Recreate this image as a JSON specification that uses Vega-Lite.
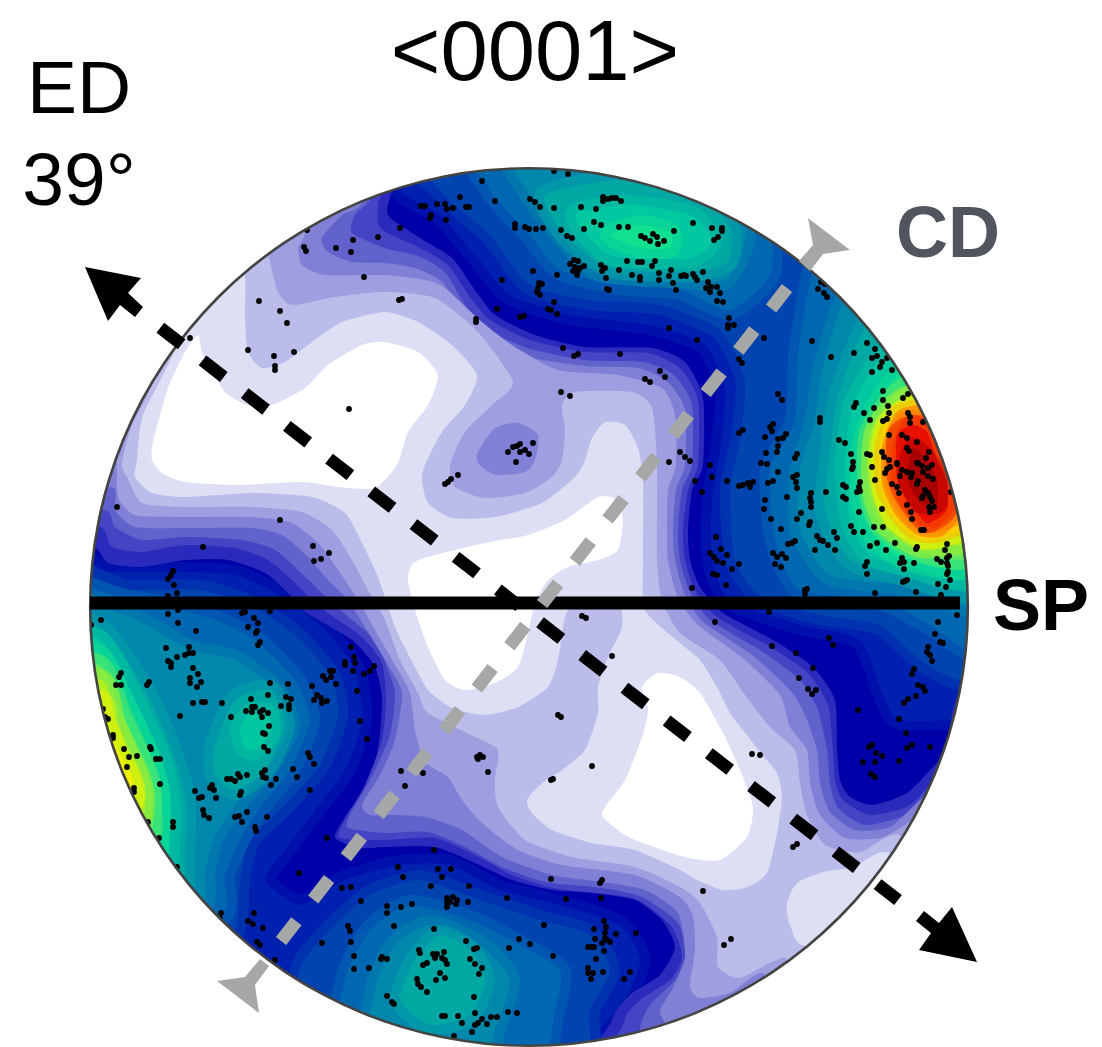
{"$schema":"https://vega.github.io/schema/vega-lite/v6.json","width":1102,"height":1047,"padding":0,"autosize":{"type":"none"},"background":"white","config":{"view":{"stroke":null}},
"encoding":{"x":{"type":"quantitative","scale":{"domain":[0,1102],"nice":false,"zero":false},"axis":null},"y":{"type":"quantitative","scale":{"domain":[1047,0],"nice":false,"zero":false},"axis":null}},
"datasets":{"regions":[
{"id":"base","level":"J0","p":[[0,0],[1102,0],[1102,1047],[0,1047]]},
{"id":"a1","level":"J1","p":[[385,130],[400,190],[440,215],[475,255],[510,295],[570,315],[650,325],[705,345],[725,390],[720,450],[712,500],[712,560],[730,600],[800,625],[860,640],[885,700],[900,720],[960,720],[1040,720],[1040,130]]},
{"id":"a2","level":"J2","p":[[420,130],[440,190],[490,235],[530,285],[590,300],[660,305],[720,330],[745,380],[740,440],[730,490],[735,560],[760,595],[820,615],[880,625],[920,660],[960,680],[1040,680],[1040,130]]},
{"id":"a3","level":"J3","p":[[470,130],[490,190],[530,235],[560,270],[620,285],[680,290],[730,310],[770,275],[770,220],[740,190],[740,130]]},
{"id":"a3r","level":"J3","p":[[835,240],[800,340],[795,420],[770,470],[775,540],[800,590],[880,600],[930,625],[970,650],[1040,650],[1040,300]]},
{"id":"a4","level":"J4","p":[[510,140],[530,195],[565,240],[600,272],[680,278],[725,280],[745,240],[740,200],[700,170],[690,140]]},
{"id":"a4r","level":"J4","p":[[865,280],[825,360],[815,420],[800,470],[800,530],[830,575],[900,585],[945,600],[1040,610],[1040,350]]},
{"id":"a5","level":"J5","p":[[545,195],[565,235],[610,268],[690,272],[728,262],[730,228],[700,195],[620,180]]},
{"id":"a5r","level":"J5","p":[[885,310],[840,390],[830,450],[825,510],[850,560],[900,575],[950,590],[1040,590],[1040,380]]},
{"id":"a6","level":"J6","p":[[575,215],[610,255],[690,258],[712,240],[690,215],[630,205]]},
{"id":"a6r","level":"J6","p":[[900,350],[855,400],[845,460],[850,520],[870,555],[920,570],[960,580],[1040,570],[1040,420]]},
{"id":"a7","level":"J7","p":[[610,235],[640,248],[670,248],[670,232],[640,225]]},
{"id":"a7r","level":"J7","p":[[910,370],[865,430],[860,490],[870,530],[900,558],[960,570],[1040,550],[1040,440]]},
{"id":"a8r","level":"J8","p":[[915,385],[870,430],[868,490],[880,525],[915,550],[965,560],[1040,540],[1040,450]]},
{"id":"a9r","level":"J9","p":[[915,395],[875,430],[872,490],[885,525],[920,548],[955,545],[1040,530],[1040,440]]},
{"id":"a10","level":"J10","p":[[920,403],[885,425],[878,465],[883,495],[897,522],[922,540],[950,535],[1040,500],[1000,430]]},
{"id":"a11","level":"J11","p":[[925,410],[898,415],[885,445],[885,485],[898,512],[915,530],[940,532],[1010,500],[1000,430]]},
{"id":"a12","level":"J12","p":[[925,415],[903,420],[892,448],[892,483],[903,508],[920,525],[938,527],[955,510],[1000,480],[960,430]]},
{"id":"a13","level":"J13","p":[[913,425],[897,435],[897,477],[907,500],[927,523],[947,510],[947,483],[937,460],[927,432]]},
{"id":"a14","level":"J14","p":[[913,448],[907,477],[920,503],[937,503],[937,480],[927,460]]},
{"id":"l1","level":"J1","p":[[40,570],[110,572],[180,572],[235,575],[280,595],[325,630],[355,670],[362,720],[345,770],[315,810],[285,850],[265,880],[300,905],[345,880],[400,865],[450,865],[500,890],[560,905],[620,925],[640,960],[625,1000],[600,1030],[590,1070],[40,1070]]},
{"id":"l2","level":"J2","p":[[40,590],[130,590],[200,590],[250,605],[295,635],[330,675],[338,715],[320,765],[285,805],[250,840],[240,880],[235,930],[190,1000],[40,1000]]},
{"id":"b2","level":"J2","p":[[290,1070],[300,970],[330,930],[370,895],[420,880],[480,900],[540,920],[590,935],[610,970],[590,1010],[570,1070]]},
{"id":"l3","level":"J3","p":[[40,600],[130,600],[210,618],[255,640],[295,680],[310,720],[290,770],[262,805],[240,840],[225,875],[215,920],[40,930]]},
{"id":"b3","level":"J3","p":[[340,1070],[345,980],[370,930],[410,905],[470,920],[520,945],[560,970],[555,1010],[530,1070]]},
{"id":"l4","level":"J4","p":[[40,615],[125,615],[190,650],[235,660],[275,690],[290,725],[270,765],[240,800],[215,835],[205,870],[195,910],[40,920]]},
{"id":"b4","level":"J4","p":[[370,1070],[375,990],[395,945],[430,925],[480,945],[510,980],[495,1030],[480,1070]]},
{"id":"l5","level":"J5","p":[[40,630],[100,628],[145,690],[170,745],[185,795],[185,850],[175,900],[40,900]]},
{"id":"c5","level":"J5","p":[[215,745],[235,700],[270,690],[285,725],[265,770],[235,790],[215,775]]},
{"id":"b5","level":"J5","p":[[400,1000],[415,960],[440,935],[470,950],[485,980],[470,1015],[430,1025]]},
{"id":"l6","level":"J6","p":[[40,645],[100,640],[135,700],[158,750],[170,795],[170,840],[160,880],[40,885]]},
{"id":"c6","level":"J6","p":[[240,728],[252,712],[268,714],[270,733],[255,750],[244,746]]},
{"id":"l7","level":"J7","p":[[40,655],[100,655],[128,710],[148,750],[160,790],[160,825],[150,860],[40,865]]},
{"id":"l8","level":"J8","p":[[40,670],[100,665],[122,715],[138,750],[150,780],[152,810],[145,840],[40,845]]},
{"id":"l9","level":"J9","p":[[40,680],[102,680],[115,720],[128,750],[140,775],[145,800],[135,825],[40,830]]},
{"id":"l10","level":"J10","p":[[40,700],[100,700],[108,725],[118,750],[130,772],[135,790],[128,805],[40,810]]},
{"id":"PG","level":"G","p":[[40,547],[93,547],[108,563],[142,567],[185,560],[228,560],[265,573],[288,593],[302,610],[352,640],[375,667],[382,700],[378,750],[368,783],[345,817],[335,838],[360,848],[385,847],[435,847],[475,863],[512,880],[552,890],[592,893],[635,900],[662,920],[675,947],[660,975],[630,995],[612,1020],[610,1080],[1040,1080],[1040,690],[960,695],[947,750],[933,767],[907,793],[873,805],[850,797],[840,780],[837,750],[835,700],[813,667],[773,640],[723,613],[700,587],[690,560],[688,530],[692,490],[703,465],[703,398],[685,362],[652,348],[585,347],[535,335],[495,315],[475,290],[452,258],[420,238],[388,215],[392,188],[395,130],[40,130]]},
{"id":"PF","level":"F","p":[[40,527],[100,527],[112,547],[142,552],[185,545],[235,548],[268,560],[292,580],[312,600],[328,613],[362,637],[382,663],[386,700],[382,740],[365,785],[345,820],[340,838],[385,840],[435,838],[475,855],[512,875],[552,888],[598,893],[638,900],[672,927],[682,957],[670,980],[640,1000],[625,1020],[630,1080],[1040,1080],[1040,700],[958,725],[940,770],[910,805],[870,815],[843,800],[835,780],[833,750],[828,705],[807,672],[767,645],[717,617],[695,590],[685,560],[683,530],[688,490],[698,465],[698,400],[680,368],[648,353],[585,352],[530,340],[490,320],[470,297],[448,265],[418,247],[385,232],[378,222],[378,205],[378,130],[40,130]]},
{"id":"PE","level":"E","p":[[40,510],[105,510],[115,527],[142,540],[185,537],[242,540],[275,550],[298,570],[322,593],[340,610],[375,640],[388,670],[395,693],[390,735],[370,780],[350,815],[348,828],[385,833],[428,832],[465,847],[502,867],[545,882],[602,888],[642,897],[678,923],[685,955],[675,980],[650,1005],[640,1030],[650,1080],[1040,1080],[1040,730],[975,730],[935,785],[905,815],[865,825],[838,808],[830,783],[827,750],[818,710],[800,680],[760,650],[710,620],[690,592],[680,560],[678,530],[682,490],[692,465],[692,405],[674,375],[643,362],[585,360],[527,348],[485,328],[465,305],[445,272],[418,256],[385,248],[352,233],[355,215],[372,195],[372,130],[40,130]]},
{"id":"PD","level":"D","p":[[40,487],[112,487],[115,510],[135,527],[185,528],[252,528],[282,535],[308,557],[328,580],[348,600],[368,632],[388,665],[402,693],[395,740],[380,775],[362,805],[370,815],[385,815],[425,817],[462,830],[502,857],[552,875],[602,882],[645,890],[678,913],[685,957],[672,990],[660,1010],[665,1025],[680,1080],[1040,1080],[1040,765],[960,765],[920,800],[890,827],[855,830],[830,812],[820,783],[817,750],[805,715],[790,690],[752,655],[703,622],[685,595],[675,560],[673,530],[676,490],[685,465],[685,410],[668,382],[638,368],[585,366],[523,356],[482,335],[462,313],[442,282],[415,268],[385,263],[352,262],[328,252],[322,238],[342,215],[362,202],[362,130],[40,130]]},
{"id":"PC","level":"C","p":[[40,440],[120,440],[117,460],[118,497],[135,515],[185,517],[252,517],[292,523],[318,543],[338,570],[358,600],[375,630],[395,665],[410,693],[415,730],[425,762],[448,777],[462,800],[482,823],[518,850],[562,865],[635,875],[680,897],[693,917],[695,950],[690,987],[700,998],[730,993],[765,975],[770,1080],[1040,1080],[1040,800],[950,795],[905,825],[880,838],[845,838],[820,815],[810,783],[807,750],[790,727],[780,695],[745,660],[698,625],[678,598],[668,560],[667,530],[668,490],[676,465],[675,415],[662,388],[618,375],[558,370],[512,345],[482,322],[445,288],[425,280],[385,275],[325,275],[302,265],[298,248],[305,228],[290,130],[40,130]]},
{"id":"PB","level":"B","p":[[262,235],[270,262],[278,292],[292,305],[335,297],[385,292],[435,298],[478,332],[513,382],[492,405],[465,432],[450,465],[455,487],[485,498],[525,493],[552,477],[562,460],[565,430],[562,405],[575,392],[632,392],[652,408],[657,465],[657,560],[662,600],[680,633],[720,660],[745,695],[770,727],[795,750],[800,783],[807,815],[825,845],[860,852],[900,835],[950,900],[800,1000],[785,958],[740,978],[718,967],[717,937],[700,903],[680,887],[635,867],[572,857],[525,840],[498,807],[495,780],[498,750],[475,737],[428,713],[418,693],[400,660],[385,620],[368,590],[352,560],[332,530],[302,512],[252,507],[185,507],[142,503],[127,477],[122,465],[130,430],[155,372],[110,350],[235,200]]},
{"id":"PA","level":"A","p":[[176,345],[160,300],[235,250],[245,278],[245,315],[248,352],[262,368],[285,362],[312,342],[342,322],[385,312],[418,322],[452,345],[477,375],[465,405],[442,432],[425,465],[422,480],[428,503],[452,518],[495,517],[542,503],[575,477],[585,460],[592,438],[605,422],[625,425],[638,448],[643,480],[643,560],[645,610],[680,643],[700,660],[717,687],[730,713],[743,730],[760,752],[777,773],[782,797],[777,833],[767,873],[747,887],[723,890],[697,880],[680,870],[635,850],[592,843],[552,830],[532,813],[527,800],[542,783],[562,770],[585,750],[598,713],[598,687],[608,657],[622,627],[618,605],[575,605],[565,617],[558,660],[548,687],[518,707],[485,715],[452,708],[428,690],[415,667],[395,627],[378,577],[362,543],[345,513],[312,497],[252,493],[185,497],[152,493],[135,477],[137,460],[143,415]]},
{"id":"PC2","level":"C","p":[[465,462],[478,440],[500,432],[530,432],[548,450],[540,475],[500,490],[475,485]]},
{"id":"PD2","level":"D","p":[[478,452],[495,428],[518,423],[538,435],[535,460],[525,472],[495,475],[478,463]]},
{"id":"PA2","level":"A","p":[[787,903],[797,883],[823,872],[853,867],[885,852],[930,880],[810,945],[790,925]]},
{"id":"W1","level":"W","p":[[198,335],[203,355],[225,392],[248,405],[272,405],[305,388],[328,365],[362,345],[385,342],[418,352],[438,375],[428,405],[408,432],[397,465],[375,488],[338,487],[302,482],[235,485],[185,482],[162,473],[152,460],[153,442],[168,388],[185,352]]},
{"id":"W2","level":"W","p":[[408,580],[413,563],[435,555],[485,543],[528,535],[565,520],[598,497],[618,500],[623,520],[618,550],[598,560],[568,567],[548,580],[538,597],[533,610],[528,633],[518,667],[495,683],[465,690],[445,680],[428,647],[415,610]]},
{"id":"W3","level":"W","p":[[720,860],[747,837],[753,807],[740,770],[723,733],[700,693],[680,677],[658,673],[642,687],[648,710],[642,737],[625,780],[602,813],[618,830],[635,840],[685,857]]}
]},
"layer":[
{"data":{"name":"regions"},"transform":[{"filter":"indexof(datum.level,'J')===0"},{"flatten":["p"]}],"mark":{"type":"line","interpolate":"cardinal-closed","tension":0.35,"strokeWidth":20,"strokeOpacity":0.5,"strokeJoin":"round"},
"encoding":{"x":{"field":"p[0]"},"y":{"field":"p[1]"},"detail":{"field":"id"},"order":{"value":null},"fill":{"field":"level","type":"nominal","legend":null,"scale":{"domain":["J0","J1","J2","J3","J4","J5","J6","J7","J8","J9","J10","J11","J12","J13","J14","G","F","E","D","C","B","A","W"],"range":["#0000a8","#0020b0","#0044b0","#0068b0","#0088ac","#00a8a4","#00c8a0","#10e090","#60e860","#b0f020","#f0f000","#ffb000","#ff6000","#e81000","#a80000","#2a2abc","#4444c4","#6262cc","#8080d6","#9e9ee0","#bcbcea","#dddff5","#ffffff"]}},"stroke":{"field":"level","type":"nominal","legend":null,"scale":{"domain":["J0","J1","J2","J3","J4","J5","J6","J7","J8","J9","J10","J11","J12","J13","J14"],"range":["#0000a8","#0020b0","#0044b0","#0068b0","#0088ac","#00a8a4","#00c8a0","#10e090","#60e860","#b0f020","#f0f000","#ffb000","#ff6000","#e81000","#a80000"]}}}},
{"data":{"name":"regions"},"transform":[{"filter":"indexof(datum.level,'J')!==0"},{"flatten":["p"]}],"mark":{"type":"line","interpolate":"cardinal-closed","tension":0.35,"strokeWidth":0},
"encoding":{"x":{"field":"p[0]"},"y":{"field":"p[1]"},"detail":{"field":"id"},"order":{"value":null},"fill":{"field":"level","type":"nominal","legend":null,"scale":{"domain":["J0","J1","J2","J3","J4","J5","J6","J7","J8","J9","J10","J11","J12","J13","J14","G","F","E","D","C","B","A","W"],"range":["#0000a8","#0020b0","#0044b0","#0068b0","#0088ac","#00a8a4","#00c8a0","#10e090","#60e860","#b0f020","#f0f000","#ffb000","#ff6000","#e81000","#a80000","#2a2abc","#4444c4","#6262cc","#8080d6","#9e9ee0","#bcbcea","#dddff5","#ffffff"]}}}},
{"data":{"values":[{"x":307,"y":230},{"x":304,"y":247},{"x":306,"y":251},{"x":336,"y":248},{"x":353,"y":240},{"x":351,"y":252},{"x":378,"y":237},{"x":364,"y":277},{"x":259,"y":301},{"x":280,"y":311},{"x":287,"y":323},{"x":248,"y":350},{"x":274,"y":356},{"x":294,"y":352},{"x":275,"y":366},{"x":275,"y":370},{"x":190,"y":338},{"x":349,"y":409},
{"x":554,"y":171},{"x":568,"y":174},{"x":482,"y":181},{"x":460,"y":197},{"x":495,"y":201},{"x":421,"y":206},{"x":425,"y":206},{"x":437,"y":204},{"x":445,"y":204},{"x":447,"y":209},{"x":453,"y":208},{"x":466,"y":207},{"x":469,"y":207},{"x":431,"y":215},{"x":430,"y":218},{"x":446,"y":220},{"x":400,"y":228},{"x":530,"y":199},{"x":535,"y":202},{"x":540,"y":207},{"x":554,"y":208},{"x":581,"y":207},{"x":596,"y":209},{"x":603,"y":197},{"x":603,"y":201},{"x":608,"y":199},{"x":612,"y":198},{"x":616,"y":198},{"x":621,"y":201},{"x":594,"y":222},{"x":601,"y":225},{"x":619,"y":227},{"x":628,"y":227},{"x":515,"y":224},{"x":515,"y":228},{"x":525,"y":227},{"x":529,"y":229},{"x":536,"y":229},{"x":543,"y":228},{"x":561,"y":230},{"x":584,"y":229},{"x":567,"y":236},{"x":572,"y":238},{"x":674,"y":231},{"x":641,"y":236},{"x":645,"y":238},{"x":650,"y":241},{"x":653,"y":234},{"x":657,"y":237},{"x":664,"y":241},{"x":658,"y":244},
{"x":574,"y":260},{"x":578,"y":261},{"x":570,"y":264},{"x":575,"y":267},{"x":580,"y":268},{"x":584,"y":266},{"x":573,"y":271},{"x":578,"y":271},{"x":577,"y":275},{"x":601,"y":265},{"x":605,"y":268},{"x":602,"y":271},{"x":619,"y":270},{"x":627,"y":261},{"x":638,"y":262},{"x":642,"y":262},{"x":655,"y":261},{"x":652,"y":266},{"x":632,"y":275},{"x":640,"y":277},{"x":640,"y":280},{"x":659,"y":273},{"x":659,"y":280},{"x":671,"y":270},{"x":669,"y":276},{"x":681,"y":276},{"x":684,"y":275},{"x":673,"y":283},{"x":676,"y":290},{"x":606,"y":278},{"x":607,"y":289},{"x":609,"y":290},
{"x":533,"y":271},{"x":557,"y":275},{"x":502,"y":280},{"x":539,"y":283},{"x":542,"y":284},{"x":538,"y":288},{"x":537,"y":292},{"x":540,"y":295},{"x":554,"y":302},{"x":548,"y":309},{"x":551,"y":310},{"x":557,"y":314},{"x":497,"y":309},{"x":520,"y":317},{"x":524,"y":316},{"x":669,"y":328},{"x":399,"y":300},{"x":402,"y":299},{"x":476,"y":319},{"x":476,"y":322},{"x":563,"y":348},{"x":574,"y":356},{"x":578,"y":354},{"x":620,"y":354},{"x":660,"y":371},{"x":665,"y":377},{"x":645,"y":379},{"x":650,"y":382},{"x":561,"y":392},{"x":570,"y":396},{"x":513,"y":447},{"x":520,"y":444},{"x":517,"y":446},{"x":533,"y":443},{"x":508,"y":452},{"x":520,"y":452},{"x":525,"y":450},{"x":529,"y":454},{"x":516,"y":462},{"x":680,"y":452},{"x":669,"y":462},
{"x":693,"y":223},{"x":712,"y":228},{"x":722,"y":228},{"x":722,"y":231},{"x":718,"y":237},{"x":714,"y":240},{"x":703,"y":272},{"x":695,"y":277},{"x":693,"y":274},{"x":697,"y":280},{"x":686,"y":276},{"x":708,"y":282},{"x":711,"y":287},{"x":717,"y":287},{"x":706,"y":288},{"x":710,"y":292},{"x":720,"y":293},{"x":717,"y":301},{"x":723,"y":302},{"x":729,"y":318},{"x":734,"y":325},{"x":728,"y":325},{"x":728,"y":328},{"x":697,"y":340},{"x":764,"y":338},{"x":739,"y":359},{"x":742,"y":363},{"x":812,"y":341},{"x":821,"y":282},{"x":825,"y":284},{"x":818,"y":289},{"x":824,"y":293},{"x":827,"y":297},{"x":854,"y":353},{"x":831,"y":357},{"x":867,"y":343},{"x":875,"y":349},{"x":877,"y":356},{"x":872,"y":358},{"x":887,"y":358},{"x":882,"y":362},{"x":880,"y":367},{"x":872,"y":372},{"x":892,"y":370},{"x":778,"y":394},{"x":782,"y":400},{"x":883,"y":391},{"x":883,"y":400},{"x":908,"y":394},{"x":903,"y":398},{"x":856,"y":403},{"x":854,"y":407},{"x":888,"y":406},{"x":874,"y":408},{"x":864,"y":413},{"x":889,"y":413},{"x":887,"y":419},{"x":883,"y":421},{"x":870,"y":420},{"x":820,"y":418},{"x":820,"y":422},{"x":908,"y":413},{"x":910,"y":417},{"x":910,"y":423},{"x":923,"y":422},{"x":773,"y":424},{"x":770,"y":427},{"x":772,"y":431},{"x":743,"y":430},{"x":739,"y":433},{"x":786,"y":434},{"x":783,"y":438},{"x":778,"y":439},{"x":765,"y":437},{"x":778,"y":446},{"x":777,"y":452},{"x":766,"y":453},{"x":839,"y":440},{"x":845,"y":443},{"x":889,"y":435},{"x":902,"y":435},{"x":907,"y":438},{"x":917,"y":442},{"x":907,"y":448},{"x":909,"y":451},{"x":929,"y":452},{"x":926,"y":458},{"x":851,"y":454},{"x":867,"y":454},{"x":870,"y":455},{"x":882,"y":452},{"x":884,"y":457},{"x":889,"y":460},{"x":797,"y":454},{"x":795,"y":458},{"x":853,"y":462},{"x":917,"y":463},{"x":897,"y":463},{"x":761,"y":463},{"x":767,"y":464},{"x":710,"y":465},{"x":690,"y":461},{"x":685,"y":457},
{"x":778,"y":472},{"x":797,"y":475},{"x":793,"y":477},{"x":796,"y":482},{"x":797,"y":488},{"x":695,"y":481},{"x":712,"y":477},{"x":727,"y":481},{"x":753,"y":482},{"x":748,"y":483},{"x":743,"y":485},{"x":739,"y":486},{"x":750,"y":487},{"x":768,"y":483},{"x":773,"y":481},{"x":702,"y":492},{"x":787,"y":497},{"x":765,"y":500},{"x":764,"y":509},{"x":811,"y":493},{"x":810,"y":498},{"x":811,"y":502},{"x":811,"y":507},{"x":826,"y":492},{"x":843,"y":485},{"x":846,"y":487},{"x":843,"y":497},{"x":846,"y":499},{"x":860,"y":482},{"x":859,"y":487},{"x":857,"y":492},{"x":860,"y":491},{"x":853,"y":467},{"x":852,"y":469},{"x":872,"y":467},{"x":875,"y":480},{"x":882,"y":509},{"x":859,"y":512},{"x":801,"y":513},{"x":797,"y":519},{"x":771,"y":519},{"x":810,"y":522},{"x":809,"y":525},{"x":781,"y":529},{"x":851,"y":526},{"x":854,"y":532},{"x":863,"y":532},{"x":874,"y":527},{"x":883,"y":527},{"x":834,"y":532},{"x":837,"y":538},{"x":817,"y":536},{"x":820,"y":540},{"x":823,"y":541},{"x":828,"y":545},{"x":835,"y":550},{"x":815,"y":550},{"x":795,"y":541},{"x":792,"y":543},{"x":788,"y":544},{"x":716,"y":537},{"x":721,"y":549},{"x":710,"y":553},{"x":714,"y":557},{"x":727,"y":555},{"x":717,"y":561},{"x":723,"y":563},{"x":739,"y":564},{"x":732,"y":569},{"x":713,"y":574},{"x":717,"y":575},{"x":726,"y":585},{"x":692,"y":588},{"x":773,"y":553},{"x":777,"y":557},{"x":782,"y":554},{"x":786,"y":558},{"x":775,"y":564},{"x":781,"y":567},{"x":805,"y":590},{"x":807,"y":589},{"x":805,"y":594},{"x":877,"y":543},{"x":870,"y":546},{"x":886,"y":550},{"x":895,"y":543},{"x":867,"y":562},{"x":865,"y":566},{"x":867,"y":574},{"x":902,"y":558},{"x":904,"y":562},{"x":900,"y":563},{"x":914,"y":563},{"x":904,"y":569},{"x":905,"y":581},{"x":903,"y":582},{"x":907,"y":580},{"x":875,"y":593},{"x":916,"y":592},{"x":917,"y":547},{"x":916,"y":549},{"x":947,"y":544},{"x":945,"y":550},{"x":949,"y":556},{"x":947,"y":558},{"x":937,"y":559},{"x":941,"y":562},{"x":947,"y":563},{"x":948,"y":566},{"x":948,"y":572},{"x":947,"y":574},{"x":950,"y":580},{"x":938,"y":584},{"x":946,"y":587},{"x":941,"y":595},
{"x":887,"y":469},{"x":885,"y":473},{"x":890,"y":467},{"x":897,"y":464},{"x":902,"y":470},{"x":900,"y":476},{"x":907,"y":472},{"x":912,"y":473},{"x":911,"y":477},{"x":918,"y":463},{"x":922,"y":466},{"x":923,"y":472},{"x":928,"y":468},{"x":932,"y":465},{"x":928,"y":476},{"x":933,"y":479},{"x":918,"y":481},{"x":917,"y":484},{"x":892,"y":484},{"x":897,"y":487},{"x":899,"y":493},{"x":925,"y":490},{"x":928,"y":493},{"x":923,"y":496},{"x":930,"y":497},{"x":922,"y":498},{"x":932,"y":501},{"x":929,"y":507},{"x":934,"y":507},{"x":930,"y":512},{"x":951,"y":492},{"x":907,"y":505},{"x":911,"y":512},{"x":912,"y":519},{"x":921,"y":530},{"x":924,"y":530},
{"x":769,"y":612},{"x":957,"y":615},{"x":938,"y":622},{"x":715,"y":622},{"x":935,"y":634},{"x":940,"y":642},{"x":943,"y":643},{"x":829,"y":638},{"x":833,"y":645},{"x":772,"y":646},{"x":796,"y":653},{"x":928,"y":647},{"x":927,"y":652},{"x":930,"y":655},{"x":932,"y":661},{"x":813,"y":668},{"x":799,"y":678},{"x":914,"y":669},{"x":912,"y":674},{"x":918,"y":685},{"x":923,"y":687},{"x":925,"y":691},{"x":916,"y":696},{"x":808,"y":689},{"x":812,"y":694},{"x":816,"y":690},{"x":908,"y":699},{"x":904,"y":703},{"x":858,"y":710},{"x":899,"y":719},{"x":906,"y":733},{"x":872,"y":745},{"x":869,"y":747},{"x":912,"y":745},{"x":907,"y":748},{"x":930,"y":747},{"x":876,"y":753},{"x":882,"y":756},{"x":752,"y":754},{"x":760,"y":755},{"x":863,"y":762},{"x":875,"y":762},{"x":899,"y":761},{"x":871,"y":774},{"x":875,"y":777},{"x":793,"y":847},{"x":797,"y":844},{"x":703,"y":891},{"x":724,"y":945},{"x":731,"y":939},
{"x":117,"y":507},{"x":280,"y":520},{"x":203,"y":547},{"x":313,"y":546},{"x":329,"y":553},{"x":321,"y":559},{"x":314,"y":561},{"x":173,"y":571},{"x":171,"y":575},{"x":168,"y":579},{"x":174,"y":585},{"x":177,"y":593},{"x":168,"y":596},{"x":168,"y":614},{"x":178,"y":610},{"x":242,"y":613},{"x":245,"y":612},{"x":270,"y":611},{"x":101,"y":620},{"x":91,"y":625},{"x":178,"y":623},{"x":254,"y":618},{"x":258,"y":623},{"x":248,"y":627},{"x":196,"y":631},{"x":257,"y":631},{"x":256,"y":633},{"x":260,"y":642},{"x":258,"y":645},{"x":166,"y":648},{"x":189,"y":647},{"x":193,"y":653},{"x":189,"y":653},{"x":185,"y":655},{"x":177,"y":657},{"x":168,"y":661},{"x":171,"y":663},{"x":171,"y":667},{"x":193,"y":668},{"x":198,"y":674},{"x":190,"y":678},{"x":190,"y":683},{"x":201,"y":682},{"x":197,"y":687},{"x":121,"y":673},{"x":119,"y":677},{"x":116,"y":685},{"x":121,"y":685},{"x":149,"y":682},{"x":147,"y":685},{"x":270,"y":683},{"x":288,"y":684},{"x":312,"y":686},{"x":330,"y":671},{"x":333,"y":671},{"x":323,"y":676},{"x":331,"y":677},{"x":326,"y":680},{"x":336,"y":684},{"x":345,"y":662},{"x":345,"y":665},{"x":351,"y":647},{"x":354,"y":657},{"x":355,"y":663},{"x":353,"y":671},{"x":374,"y":666},{"x":370,"y":671},{"x":364,"y":674},{"x":357,"y":691},{"x":268,"y":695},{"x":251,"y":699},{"x":286,"y":697},{"x":291,"y":699},{"x":289,"y":705},{"x":289,"y":709},{"x":281,"y":706},{"x":317,"y":695},{"x":321,"y":698},{"x":314,"y":700},{"x":322,"y":703},{"x":327,"y":701},{"x":193,"y":703},{"x":202,"y":702},{"x":205,"y":702},{"x":222,"y":703},{"x":246,"y":711},{"x":252,"y":707},{"x":255,"y":707},{"x":252,"y":712},{"x":260,"y":712},{"x":263,"y":710},{"x":268,"y":713},{"x":262,"y":717},{"x":231,"y":717},{"x":180,"y":716},{"x":103,"y":709},{"x":105,"y":717},{"x":108,"y":719},{"x":269,"y":726},{"x":263,"y":733},{"x":265,"y":734},{"x":360,"y":721},{"x":367,"y":739},{"x":113,"y":735},{"x":113,"y":738},{"x":264,"y":747},{"x":268,"y":751},{"x":124,"y":749},{"x":150,"y":747},{"x":151,"y":749},{"x":129,"y":757},{"x":137,"y":756},{"x":308,"y":753},{"x":310,"y":757},{"x":156,"y":759},{"x":160,"y":759},
{"x":127,"y":767},{"x":134,"y":788},{"x":134,"y":792},{"x":160,"y":784},{"x":314,"y":764},{"x":293,"y":769},{"x":297,"y":777},{"x":310,"y":790},{"x":265,"y":770},{"x":262,"y":773},{"x":263,"y":777},{"x":266,"y":778},{"x":276,"y":779},{"x":271,"y":785},{"x":247,"y":775},{"x":238,"y":774},{"x":240,"y":777},{"x":227,"y":779},{"x":231,"y":779},{"x":235,"y":781},{"x":212,"y":785},{"x":210,"y":788},{"x":214,"y":790},{"x":195,"y":791},{"x":202,"y":797},{"x":199,"y":798},{"x":216,"y":798},{"x":241,"y":792},{"x":240,"y":795},{"x":203,"y":810},{"x":204,"y":815},{"x":209,"y":818},{"x":247,"y":812},{"x":235,"y":817},{"x":239,"y":816},{"x":242,"y":822},{"x":267,"y":817},{"x":255,"y":827},{"x":256,"y":831},{"x":173,"y":822},{"x":173,"y":827},{"x":148,"y":822},{"x":159,"y":838},{"x":177,"y":867},{"x":327,"y":838},{"x":299,"y":873},{"x":342,"y":888},{"x":351,"y":887},{"x":361,"y":901},{"x":221,"y":913},{"x":220,"y":919},{"x":254,"y":913},{"x":248,"y":921},{"x":253,"y":924},{"x":263,"y":928},{"x":257,"y":942},{"x":260,"y":945},{"x":275,"y":960},{"x":322,"y":943},{"x":348,"y":926},{"x":350,"y":931},{"x":351,"y":942},{"x":354,"y":956},{"x":354,"y":969},{"x":369,"y":968},{"x":381,"y":959},{"x":382,"y":957},
{"x":401,"y":771},{"x":423,"y":773},{"x":405,"y":786},{"x":477,"y":757},{"x":480,"y":755},{"x":483,"y":757},{"x":478,"y":759},{"x":488,"y":772},{"x":551,"y":780},{"x":553,"y":779},{"x":592,"y":766},{"x":434,"y":850},{"x":398,"y":867},{"x":403,"y":877},{"x":438,"y":869},{"x":451,"y":869},{"x":442,"y":877},{"x":431,"y":886},{"x":469,"y":886},{"x":387,"y":906},{"x":401,"y":907},{"x":412,"y":904},{"x":387,"y":913},{"x":394,"y":926},{"x":447,"y":898},{"x":453,"y":897},{"x":457,"y":900},{"x":450,"y":902},{"x":447,"y":903},{"x":456,"y":904},{"x":447,"y":907},{"x":468,"y":902},{"x":507,"y":898},{"x":566,"y":899},{"x":601,"y":898},{"x":551,"y":879},{"x":602,"y":880},{"x":600,"y":883},{"x":434,"y":929},{"x":466,"y":941},{"x":477,"y":948},{"x":474,"y":949},{"x":519,"y":939},{"x":530,"y":944},{"x":509,"y":948},{"x":544,"y":925},{"x":553,"y":956},{"x":419,"y":950},{"x":420,"y":953},{"x":433,"y":954},{"x":437,"y":954},{"x":444,"y":952},{"x":435,"y":958},{"x":442,"y":958},{"x":445,"y":960},{"x":427,"y":963},{"x":423,"y":965},{"x":447,"y":964},{"x":470,"y":959},{"x":475,"y":964},{"x":482,"y":968},{"x":479,"y":974},{"x":440,"y":973},{"x":445,"y":978},{"x":436,"y":980},{"x":417,"y":979},{"x":418,"y":984},{"x":421,"y":987},{"x":427,"y":992},{"x":387,"y":959},{"x":387,"y":996},{"x":392,"y":1002},{"x":394,"y":1004},{"x":474,"y":997},{"x":442,"y":1016},{"x":445,"y":1016},{"x":458,"y":1016},{"x":462,"y":1023},{"x":475,"y":1013},{"x":482,"y":1019},{"x":478,"y":1023},{"x":475,"y":1025},{"x":487,"y":1024},{"x":491,"y":1017},{"x":497,"y":1017},{"x":508,"y":1012},{"x":517,"y":1013},{"x":472,"y":1032},{"x":454,"y":1036},{"x":604,"y":921},{"x":606,"y":927},{"x":594,"y":929},{"x":616,"y":934},{"x":636,"y":933},{"x":605,"y":933},{"x":605,"y":938},{"x":595,"y":939},{"x":610,"y":942},{"x":602,"y":943},{"x":607,"y":940},{"x":588,"y":947},{"x":592,"y":947},{"x":594,"y":947},{"x":604,"y":951},{"x":596,"y":959},{"x":588,"y":968},{"x":588,"y":973},{"x":593,"y":973},{"x":603,"y":972},{"x":591,"y":979},{"x":630,"y":972},{"x":624,"y":979},
{"x":458,"y":475},{"x":451,"y":479},{"x":448,"y":482},{"x":445,"y":484},{"x":582,"y":616},{"x":586,"y":618},{"x":612,"y":656},{"x":558,"y":715},{"x":561,"y":717}]},
"mark":{"type":"circle","color":"#000000","opacity":1,"size":34},"encoding":{"x":{"field":"x"},"y":{"field":"y"}}},
{"data":{"values":[{"x":529,"y":607}]},"mark":{"type":"arc","innerRadius":439,"outerRadius":900,"theta":0,"theta2":6.2832,"fill":"#ffffff"},"encoding":{"x":{"field":"x"},"y":{"field":"y"}}},
{"data":{"values":[{"x":529,"y":607}]},"mark":{"type":"arc","innerRadius":437.5,"outerRadius":440,"theta":0,"theta2":6.2832,"fill":"#444444"},"encoding":{"x":{"field":"x"},"y":{"field":"y"}}},
{"data":{"values":[{"x":160.3,"y":327.7,"x2":898,"y2":900}]},"mark":{"type":"rule","color":"#000000","strokeWidth":12.5,"strokeDash":[27,26.4]},"encoding":{"x":{"field":"x"},"y":{"field":"y"},"x2":{"field":"x2"},"y2":{"field":"y2"}}},
{"data":{"values":[{"x":90,"y":603,"x2":960,"y2":603}]},"mark":{"type":"rule","color":"#000000","strokeWidth":13},"encoding":{"x":{"field":"x"},"y":{"field":"y"},"x2":{"field":"x2"},"y2":{"field":"y2"}}},
{"data":{"values":[{"x":787,"y":288,"x2":281,"y2":941}]},"mark":{"type":"rule","color":"#a6a8a7","strokeWidth":13,"strokeDash":[26,27.4]},"encoding":{"x":{"field":"x"},"y":{"field":"y"},"x2":{"field":"x2"},"y2":{"field":"y2"}}},
{"data":{"values":[{"id":"n","p":[[85,267],[141,278],[128,293],[143,307],[135,317],[120,305],[108,321]]},{"id":"s","p":[[977,962],[952,907],[939,923],[924,911],[916,921],[931,933],[919,950]]}]},"transform":[{"flatten":["p"]}],"mark":{"type":"line","interpolate":"linear-closed","fill":"#000000","strokeWidth":0},"encoding":{"x":{"field":"p[0]"},"y":{"field":"p[1]"},"detail":{"field":"id"},"order":{"value":null}}},
{"data":{"values":[{"id":"n","p":[[808,218],[850,250],[823,254],[810,271],[799,261],[813,245]]},{"id":"s","p":[[217,981],[245,977],[260,959],[269,966],[255,985],[259,1013]]}]},"transform":[{"flatten":["p"]}],"mark":{"type":"line","interpolate":"linear-closed","fill":"#a6a8a7","strokeWidth":0},"encoding":{"x":{"field":"p[0]"},"y":{"field":"p[1]"},"detail":{"field":"id"},"order":{"value":null}}},
{"data":{"values":[{"t":"<0001>","x":535,"y":80}]},"mark":{"type":"text","font":"Liberation Sans","fontSize":85,"align":"center","baseline":"alphabetic","color":"#000000"},"encoding":{"x":{"field":"x"},"y":{"field":"y"},"text":{"field":"t"}}},
{"data":{"values":[{"t":"ED","x":79,"y":113},{"t":"39°","x":79,"y":205}]},"mark":{"type":"text","font":"Liberation Sans","fontSize":75,"align":"center","baseline":"alphabetic","color":"#000000"},"encoding":{"x":{"field":"x"},"y":{"field":"y"},"text":{"field":"t"}}},
{"data":{"values":[{"t":"CD","x":948,"y":257}]},"mark":{"type":"text","font":"Liberation Sans","fontWeight":"bold","fontSize":72,"align":"center","baseline":"alphabetic","color":"#50555e"},"encoding":{"x":{"field":"x"},"y":{"field":"y"},"text":{"field":"t"}}},
{"data":{"values":[{"t":"SP","x":1041,"y":630}]},"mark":{"type":"text","font":"Liberation Sans","fontWeight":"bold","fontSize":72,"align":"center","baseline":"alphabetic","color":"#000000"},"encoding":{"x":{"field":"x"},"y":{"field":"y"},"text":{"field":"t"}}}
]}
